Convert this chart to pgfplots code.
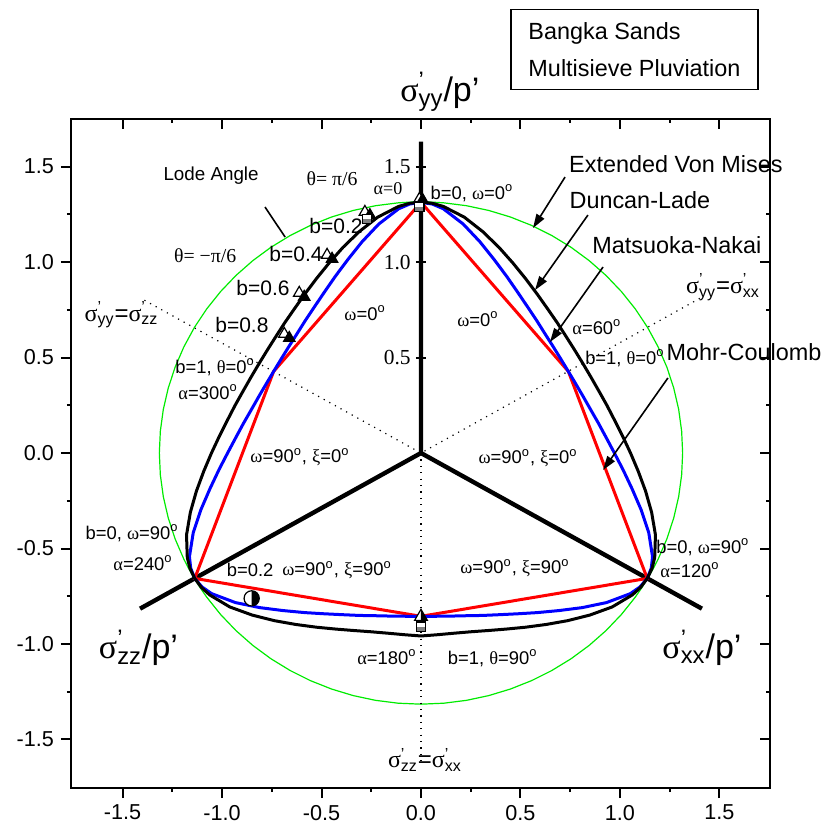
\documentclass[border=0pt]{standalone}
\usepackage{pgfplots}
\pgfplotsset{compat=1.18}
\usepackage{pgfplotstable}
\usepackage{fontspec}
\setmainfont{Liberation Sans}
\newfontfamily\gr{Liberation Serif}
\usetikzlibrary{arrows.meta}
\newcommand{\dg}{\textsuperscript{o}}
\newcommand{\g}[1]{{\gr #1}}
\newcommand{\sig}[1]{{\gr σ}\rlap{\textsuperscript{\char"27}}\textsubscript{#1}}
\tikzset{
  lab/.style={font=\fontsize{9.2}{11}\selectfont, inner sep=0pt},
  bl/.style={font=\fontsize{10.5}{12}\selectfont, inner sep=0pt},
  big/.style={font=\fontsize{11.7}{14}\selectfont, inner sep=0pt},
  sg/.style={font=\fontsize{12}{14}\selectfont, inner sep=0pt},
  ttl/.style={font=\fontsize{17}{20}\selectfont, inner sep=0pt},
}

\pgfdeclareplotmark{htri}{%
  \pgfpathmoveto{\pgfqpoint{0pt}{\pgfplotmarksize}}%
  \pgfpathlineto{\pgfqpoint{-.866\pgfplotmarksize}{-.5\pgfplotmarksize}}%
  \pgfpathlineto{\pgfqpoint{.866\pgfplotmarksize}{-.5\pgfplotmarksize}}%
  \pgfpathclose
  \pgfsetfillcolor{white}\pgfusepathqfill
  \pgfpathmoveto{\pgfqpoint{0pt}{\pgfplotmarksize}}%
  \pgfpathlineto{\pgfqpoint{0pt}{-.5\pgfplotmarksize}}%
  \pgfpathlineto{\pgfqpoint{.866\pgfplotmarksize}{-.5\pgfplotmarksize}}%
  \pgfpathclose
  \pgfsetfillcolor{black}\pgfusepathqfill
  \pgfpathmoveto{\pgfqpoint{0pt}{\pgfplotmarksize}}%
  \pgfpathlineto{\pgfqpoint{-.866\pgfplotmarksize}{-.5\pgfplotmarksize}}%
  \pgfpathlineto{\pgfqpoint{.866\pgfplotmarksize}{-.5\pgfplotmarksize}}%
  \pgfpathclose
  \pgfusepathqstroke}
\pgfdeclareplotmark{otri}{%
  \pgfpathmoveto{\pgfqpoint{0pt}{\pgfplotmarksize}}%
  \pgfpathlineto{\pgfqpoint{-.866\pgfplotmarksize}{-.5\pgfplotmarksize}}%
  \pgfpathlineto{\pgfqpoint{.866\pgfplotmarksize}{-.5\pgfplotmarksize}}%
  \pgfpathclose
  \pgfsetfillcolor{white}\pgfusepathqfillstroke}
\pgfdeclareplotmark{ftri}{%
  \pgfpathmoveto{\pgfqpoint{0pt}{\pgfplotmarksize}}%
  \pgfpathlineto{\pgfqpoint{-.866\pgfplotmarksize}{-.5\pgfplotmarksize}}%
  \pgfpathlineto{\pgfqpoint{.866\pgfplotmarksize}{-.5\pgfplotmarksize}}%
  \pgfpathclose
  \pgfsetfillcolor{black}\pgfusepathqfillstroke}
\pgfdeclareplotmark{hsq}{%
  \pgfpathrectangle{\pgfqpoint{-\pgfplotmarksize}{-\pgfplotmarksize}}{\pgfqpoint{2\pgfplotmarksize}{2\pgfplotmarksize}}%
  \pgfsetfillcolor{white}\pgfusepathqfill
  \pgfpathrectangle{\pgfqpoint{-\pgfplotmarksize}{-\pgfplotmarksize}}{\pgfqpoint{2\pgfplotmarksize}{\pgfplotmarksize}}%
  \pgfsetfillcolor{gray}\pgfusepathqfill
  \pgfpathrectangle{\pgfqpoint{-\pgfplotmarksize}{-\pgfplotmarksize}}{\pgfqpoint{2\pgfplotmarksize}{2\pgfplotmarksize}}%
  \pgfusepathqstroke}
\pgfdeclareplotmark{hcirc}{%
  \pgfpathcircle{\pgfpointorigin}{\pgfplotmarksize}%
  \pgfsetfillcolor{white}\pgfusepathqfill
  \pgfpathmoveto{\pgfqpoint{0pt}{\pgfplotmarksize}}%
  \pgfpatharc{90}{-90}{\pgfplotmarksize}%
  \pgfpathclose
  \pgfsetfillcolor{black}\pgfusepathqfill
  \pgfpathcircle{\pgfpointorigin}{\pgfplotmarksize}%
  \pgfusepathqstroke}

% polar data: a = angle from sigma'yy axis (deg), radii of the criteria
\pgfplotstableread{
a mn dl vm
0 1.313 1.313 1.315
2.5 1.305 1.309 1.315
5 1.284 1.296 1.315
10 1.218 1.254 1.315
15 1.145 1.200 1.315
20 1.077 1.146 1.315
25 1.020 1.096 1.315
30 0.972 1.053 1.315
35 0.934 1.017 1.315
40 0.905 0.988 1.315
45 0.882 0.967 1.315
50 0.867 0.951 1.315
55 0.858 0.942 1.315
60 0.855 0.939 1.315
65 0.858 0.942 1.315
70 0.867 0.951 1.315
75 0.882 0.967 1.315
80 0.905 0.988 1.315
85 0.934 1.017 1.315
90 0.972 1.053 1.315
95 1.020 1.096 1.315
100 1.077 1.146 1.315
105 1.145 1.200 1.315
110 1.218 1.254 1.315
115 1.284 1.296 1.315
117.5 1.305 1.309 1.315
120 1.313 1.313 1.315
122.5 1.305 1.309 1.315
125 1.284 1.296 1.315
130 1.218 1.254 1.315
135 1.145 1.200 1.315
140 1.077 1.146 1.315
145 1.020 1.096 1.315
150 0.972 1.053 1.315
155 0.934 1.017 1.315
160 0.905 0.989 1.315
165 0.882 0.969 1.315
170 0.867 0.958 1.315
175 0.858 0.955 1.315
180 0.855 0.958 1.315
185 0.858 0.955 1.315
190 0.867 0.958 1.315
195 0.882 0.969 1.315
200 0.905 0.989 1.315
205 0.934 1.017 1.315
210 0.972 1.053 1.315
215 1.020 1.096 1.315
220 1.077 1.146 1.315
225 1.145 1.200 1.315
230 1.218 1.254 1.315
235 1.284 1.296 1.315
237.5 1.305 1.309 1.315
240 1.313 1.313 1.315
242.5 1.305 1.309 1.315
245 1.284 1.296 1.315
250 1.218 1.254 1.315
255 1.145 1.200 1.315
260 1.077 1.146 1.315
265 1.020 1.096 1.315
270 0.972 1.053 1.315
275 0.934 1.017 1.315
280 0.905 0.988 1.315
285 0.882 0.967 1.315
290 0.867 0.951 1.315
295 0.858 0.942 1.315
300 0.855 0.939 1.315
305 0.858 0.942 1.315
310 0.867 0.951 1.315
315 0.882 0.967 1.315
320 0.905 0.988 1.315
325 0.934 1.017 1.315
330 0.972 1.053 1.315
335 1.020 1.096 1.315
340 1.077 1.146 1.315
345 1.145 1.200 1.315
350 1.218 1.254 1.315
355 1.284 1.296 1.315
357.5 1.305 1.309 1.315
360 1.313 1.313 1.315
}\shapes
\pgfplotstableread{
a r
0 1.313
60 0.855
120 1.313
180 0.855
240 1.313
300 0.855
360 1.313
}\mohr

\begin{document}
\begin{tikzpicture}
\useasboundingbox (-35.5pt,-22pt) rectangle (377pt,394pt);
% inward ticks on top and right
\begin{axis}[
  scale only axis, width=349.5pt, height=334.5pt,
  xmin=-1.759, xmax=1.754, ymin=-1.754, ymax=1.749,
  xtick={-1.5,-1,-0.5,0,0.5,1,1.5}, ytick={-1.5,-1,-0.5,0,0.5,1,1.5},
  minor x tick num=1, minor y tick num=1,
  tick pos=right, tick align=inside,
  major tick length=5pt, minor tick length=2pt,
  xticklabels={}, yticklabels={},
  axis line style={line width=1pt},
  every tick/.style={black, line width=1pt},
]
\end{axis}
\begin{axis}[
  scale only axis, width=349.5pt, height=334.5pt,
  xmin=-1.759, xmax=1.754, ymin=-1.754, ymax=1.749,
  xtick={-1.5,-1,-0.5,0,0.5,1,1.5}, ytick={-1.5,-1,-0.5,0,0.5,1,1.5},
  minor x tick num=1, minor y tick num=1,
  tick pos=left, tick align=outside,
  major tick length=5pt, minor tick length=2pt,
  axis line style={line width=1pt},
  every tick/.style={black, line width=1pt},
  tick label style={font=\fontsize{10.8}{12}\selectfont},
  /pgf/number format/fixed, /pgf/number format/fixed zerofill,
  /pgf/number format/precision=1, /pgf/number format/assume math mode=true,
  clip=false,
]
% Extended Von Mises circle
\addplot[color={rgb,255:red,0;green,235;blue,0}, line width=0.6pt]
  table[x expr={\thisrow{vm}*sin(\thisrow{a})}, y expr={\thisrow{vm}*cos(\thisrow{a})}] {\shapes};
% dotted bisectors
\addplot[line width=0.6pt, dash pattern=on 0.6pt off 2.6pt] coordinates {(-1.39,0.80) (0,0) (1.41,0.815)};
\addplot[line width=0.6pt, dash pattern=on 0.6pt off 2.6pt] coordinates {(0,0) (0,-1.63)};
% principal stress axes
\addplot[line width=2.2pt] coordinates {(0,1.63) (0,0) (-1.412,-0.815)};
\addplot[line width=2.2pt] coordinates {(0,0) (1.412,-0.815)};
% Mohr-Coulomb
\addplot[red, line width=1.5pt]
  table[x expr={\thisrow{r}*sin(\thisrow{a})}, y expr={\thisrow{r}*cos(\thisrow{a})}] {\mohr};
% Matsuoka-Nakai
\addplot[blue, line width=1.5pt]
  table[x expr={\thisrow{mn}*sin(\thisrow{a})}, y expr={\thisrow{mn}*cos(\thisrow{a})}] {\shapes};
% Duncan-Lade
\addplot[black, line width=1.5pt]
  table[x expr={\thisrow{dl}*sin(\thisrow{a})}, y expr={\thisrow{dl}*cos(\thisrow{a})}] {\shapes};
% inner axis ticks
\draw[line width=1pt] (axis cs:-0.026,1.5) -- (axis cs:0.026,1.5);
\draw[line width=1pt] (axis cs:-0.026,1.0) -- (axis cs:0.026,1.0);
\draw[line width=1pt] (axis cs:-0.026,0.5) -- (axis cs:0.026,0.5);
\node[anchor=east, font=\gr\fontsize{10.7}{12}\selectfont, inner sep=0pt] at (axis cs:-0.05,1.5) {1.5};
\node[anchor=east, font=\gr\fontsize{10.7}{12}\selectfont, inner sep=0pt] at (axis cs:-0.05,1.0) {1.0};
\node[anchor=east, font=\gr\fontsize{10.7}{12}\selectfont, inner sep=0pt] at (axis cs:-0.05,0.5) {0.5};
% data points
\addplot[only marks, mark=otri, mark size=3.3pt, mark options={line width=0.6pt}] coordinates {(-0.008,1.330) (-0.282,1.262) (-0.472,1.037) (-0.612,0.838) (-0.687,0.623)};
\addplot[only marks, mark=ftri, mark size=3.3pt, mark options={line width=0.6pt}] coordinates {(0.008,1.325) (-0.257,1.245) (-0.447,1.016) (-0.587,0.817) (-0.662,0.602)};
\addplot[only marks, mark=hsq, mark size=2.3pt, mark options={line width=0.6pt}] coordinates {(-0.008,1.290) (-0.270,1.224) (0,-0.909)};
\addplot[only marks, mark=htri, mark size=3.7pt, mark options={line width=0.6pt}] coordinates {(0,-0.857)};
\addplot[only marks, mark=hcirc, mark size=3.8pt, mark options={line width=0.6pt}] coordinates {(-0.851,-0.761)};
% arrows
\draw[line width=0.8pt, -{Triangle[length=7pt,width=4.5pt]}] (axis cs:0.724,1.445) -- (axis cs:0.563,1.178);
\draw[line width=0.8pt, -{Triangle[length=7pt,width=4.5pt]}] (axis cs:0.839,1.246) -- (axis cs:0.573,0.853);
\draw[line width=0.8pt, -{Triangle[length=7pt,width=4.5pt]}] (axis cs:0.915,0.974) -- (axis cs:0.648,0.581);
\draw[line width=0.8pt, -{Triangle[length=7pt,width=4.5pt]}] (axis cs:1.241,0.393) -- (axis cs:0.915,-0.089);
\draw[line width=0.8pt] (axis cs:-0.784,1.288) -- (axis cs:-0.683,1.131);
% labels
\node[big] at (axis cs:1.281,1.513) {Extended Von Mises};
\node[big] at (axis cs:1.10,1.325) {Duncan-Lade};
\node[big] at (axis cs:1.286,1.089) {Matsuoka-Nakai};
\node[big] at (axis cs:1.623,0.529) {Mohr-Coulomb};
\node[font=\fontsize{9.4}{11}\selectfont, inner sep=0pt] at (axis cs:-1.055,1.450) {Lode Angle};
\node[font=\gr\fontsize{9.9}{12}\selectfont, inner sep=0pt] at (axis cs:-0.447,1.435) {θ= π/6};
\node[font=\gr\fontsize{9}{11}\selectfont, inner sep=0pt] at (axis cs:-0.166,1.382) {α=0};
\node[font=\gr\fontsize{9.9}{12}\selectfont, inner sep=0pt] at (axis cs:-1.085,1.031) {θ= −π/6};
\node[bl] at (axis cs:-0.427,1.188) {b=0.2};
\node[bl] at (axis cs:-0.628,1.042) {b=0.4};
\node[bl] at (axis cs:-0.794,0.864) {b=0.6};
\node[bl] at (axis cs:-0.900,0.670) {b=0.8};
\node[lab] at (axis cs:-0.281,0.733) {\g{ω}=0\dg};
\node[lab] at (axis cs:0.256,1.361) {b=0, \g{ω}=0\dg};
\node[lab] at (axis cs:0.286,0.702) {\g{ω}=0\dg};
\node[lab] at (axis cs:0.884,0.660) {\g{α}=60\dg};
\node[lab] at (axis cs:1.025,0.497) {b=1, \g{θ}=0\dg};
\node[sg] at (axis cs:1.518,0.869) {\sig{yy}=\sig{xx}};
\node[sg] at (axis cs:-1.505,0.723) {\sig{yy}=\sig{zz}};
\node[lab] at (axis cs:-1.035,0.450) {b=1, \g{θ}=0\dg};
\node[lab] at (axis cs:-1.070,0.319) {\g{α}=300\dg};
\node[lab] at (axis cs:-0.608,-0.021) {\g{ω}=90\dg, \g{ξ}=0\dg};
\node[lab] at (axis cs:0.538,-0.026) {\g{ω}=90\dg, \g{ξ}=0\dg};
\node[lab] at (axis cs:-1.452,-0.419) {b=0, \g{ω}=90\dg};
\node[lab] at (axis cs:-1.397,-0.576) {\g{α}=240\dg};
\node[lab] at (axis cs:-0.859,-0.613) {b=0.2};
\node[lab] at (axis cs:-0.422,-0.613) {\g{ω}=90\dg, \g{ξ}=90\dg};
\node[lab] at (axis cs:-0.171,-1.068) {\g{α}=180\dg};
\node[lab] at (axis cs:0.36,-1.075) {b=1, \g{θ}=90\dg};
\node[sg] at (axis cs:0.02,-1.607) {\sig{zz}=\sig{xx}};
\node[lab] at (axis cs:0.472,-0.602) {\g{ω}=90\dg, \g{ξ}=90\dg};
\node[lab] at (axis cs:1.417,-0.492) {b=0, \g{ω}=90\dg};
\node[lab] at (axis cs:1.352,-0.613) {\g{α}=120\dg};
\node[ttl] at (axis cs:0.095,1.89) {\sig{yy}/p\char"27};
\node[ttl] at (axis cs:-1.420,-1.021) {\sig{zz}/p\char"27};
\node[ttl] at (axis cs:1.412,-1.020) {\sig{xx}/p\char"27};
% sample box
\node[draw, line width=0.6pt, minimum width=123.5pt, minimum height=40pt, align=left,
  font=\fontsize{11.7}{18.5}\selectfont] at (axis cs:1.073,2.113) {Bangka Sands\\Multisieve Pluviation};
\end{axis}
\end{tikzpicture}
\end{document}
